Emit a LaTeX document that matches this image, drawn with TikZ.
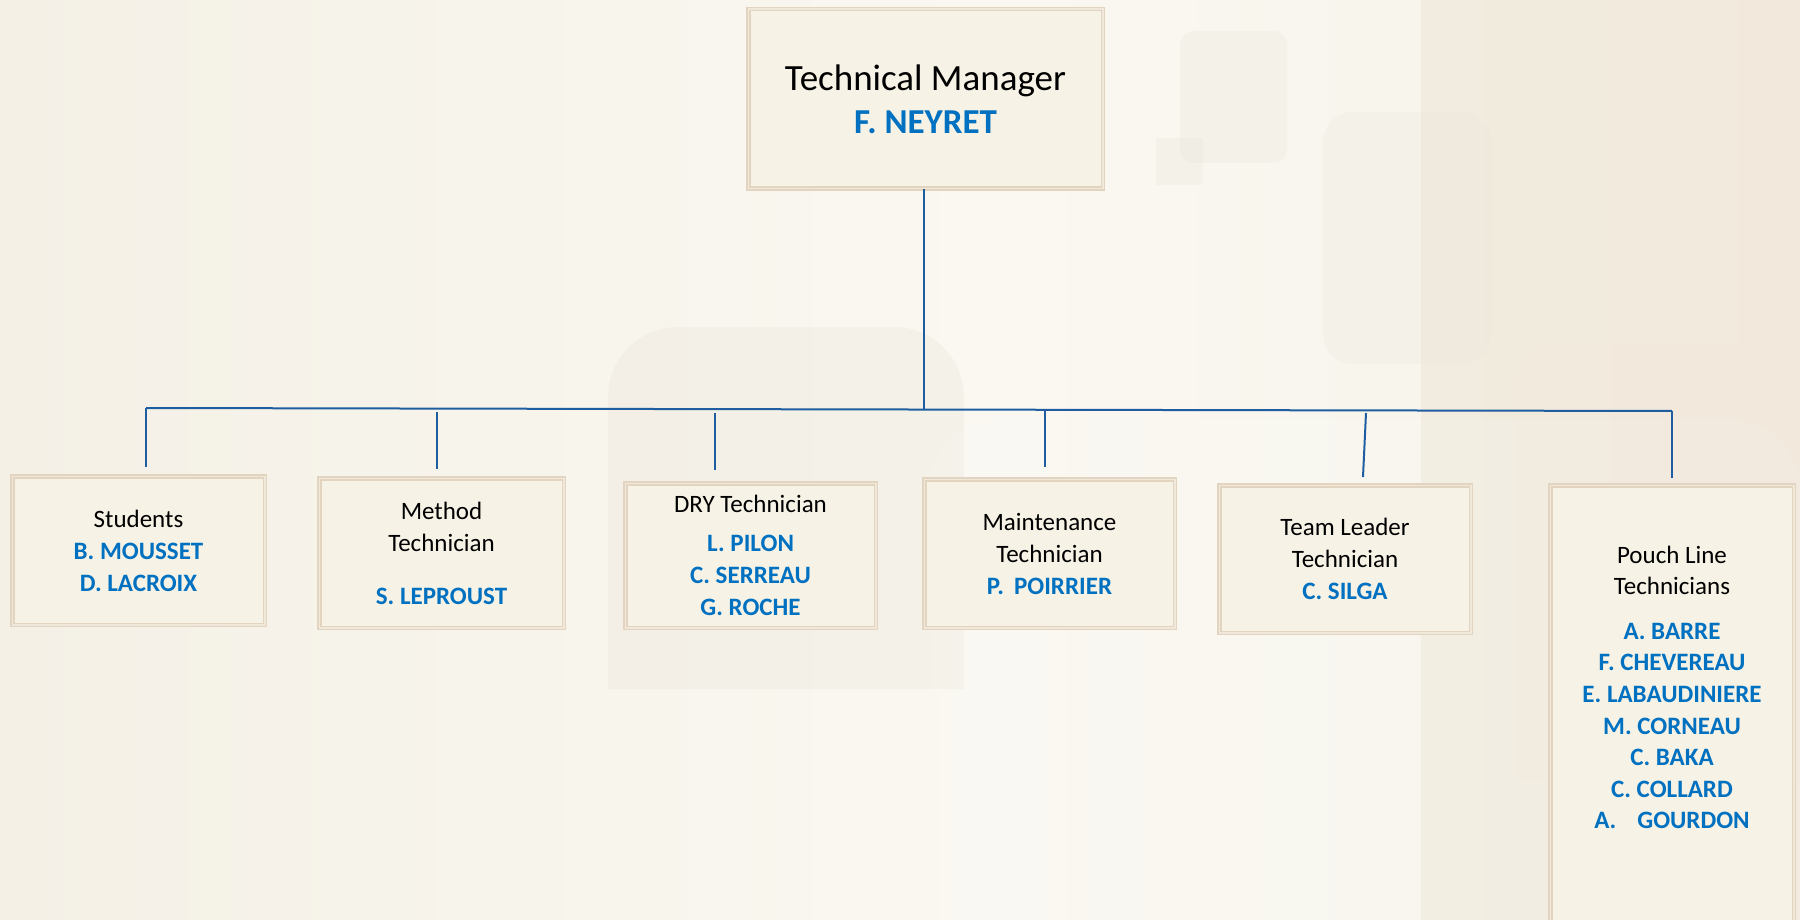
\documentclass[tikz,border=0pt]{standalone}
\usepackage{fontspec}
\setmainfont{Carlito}
\definecolor{bluetxt}{RGB}{0,112,192}
\definecolor{linec}{RGB}{30,94,160}
\definecolor{boxfill}{RGB}{246,242,229}
\definecolor{boxedge}{RGB}{226,212,190}
\definecolor{boxlight}{RGB}{240,233,219}
\definecolor{bgA}{RGB}{244,240,230}
\definecolor{bgB}{RGB}{250,248,241}
\definecolor{bgC}{RGB}{241,236,223}
\definecolor{bgD}{RGB}{242,233,220}
\definecolor{ghost}{RGB}{234,230,219}
\tikzset{
  obox/.style={draw=boxedge, line width=1.5pt, double=boxlight, double distance=1.5pt,
    fill=boxfill, inner sep=0pt, align=center, font=\fontsize{25}{32}\selectfont},
  conn/.style={draw=linec, line width=2pt},
}
\newcommand{\who}[1]{{\bfseries\color{bluetxt}#1}}
\begin{document}
\begin{tikzpicture}[x=1pt,y=-1pt]
\useasboundingbox (0,0) rectangle (1800,920);
% background
\shade[left color=bgA, right color=bgB] (0,0) rectangle (1000,920);
\shade[left color=bgB, right color=bgB!60!bgA] (1000,0) rectangle (1421,920);
\shade[left color=bgC, right color=bgD] (1421,0) rectangle (1800,920);
\fill[ghost, opacity=0.35, rounded corners=70pt] (608,689) -- (608,327) -- (964,327) [sharp corners] -- (964,689) -- cycle;
\fill[white, opacity=0.12, rounded corners=70pt] (930,920) -- (930,419) -- (1800,419) [sharp corners] -- (1800,920) -- cycle;
\fill[ghost, opacity=0.3, rounded corners=14pt] (1180,163) -- (1180,31) -- (1287,31) -- (1287,163) -- cycle;
\fill[ghost, opacity=0.3] (1156,138) rectangle (1203,185);
\fill[ghost, opacity=0.25, rounded corners=30pt] (1323,112) rectangle (1491,364);
\fill[bgD, opacity=0.35, rounded corners=40pt] (1515,780) -- (1515,344) -- (1800,344) [sharp corners] -- (1800,780) -- cycle;

% boxes
\node[obox, minimum width=354.5pt, minimum height=179.5pt, font=\fontsize{37}{43}\selectfont] (top) at (925.5,99)
  {Technical Manager\\{\fontsize{35}{43}\selectfont\who{F. NEYRET}}};
\node[obox, minimum width=252.5pt, minimum height=148.5pt] (stud) at (138.5,550.5)
  {Students\\\who{B. MOUSSET}\\\who{D. LACROIX}};
\node[obox, minimum width=244.5pt, minimum height=149.5pt] (meth) at (441.5,553)
  {Method\\Technician\\[21pt]\who{S. LEPROUST}};
\node[obox, minimum width=250.5pt, minimum height=144.5pt] (dry) at (750.5,555.5)
  {DRY Technician\\[7pt]\who{L. PILON}\\\who{C. SERREAU}\\\who{G. ROCHE}};
\node[obox, minimum width=250.5pt, minimum height=148.5pt] (maint) at (1049.5,553.5)
  {Maintenance\\Technician\\\who{P.\hspace{10pt}POIRRIER}};
\node[obox, minimum width=251.5pt, minimum height=147.5pt] (team) at (1345,559)
  {Team Leader\\Technician\\\who{C. SILGA}};
\node[obox, minimum width=243.5pt, minimum height=452.5pt] (pouch) at (1672,711.5) {};
\node[inner sep=0pt, align=center, anchor=north, font=\fontsize{25}{31.6}\selectfont] (pouchtxt) at (1672,545.5)
  {Pouch Line\\Technicians\\[13pt]\who{A. BARRE}\\\who{F. CHEVEREAU}\\\who{E. LABAUDINIERE}\\\who{M. CORNEAU}\\\who{C. BAKA}\\\who{C. COLLARD}\\\who{A.\hspace{21pt}GOURDON}};

% connectors
\coordinate (bL) at (146,408);
\coordinate (bR) at (1672,411);
\coordinate (bT) at (924,408.5);
\coordinate (dM) at (437,412);
\coordinate (dD) at (715,413);
\coordinate (dN) at (1045,409.5);
\coordinate (dT) at (1366,413);
\coordinate (eT) at (1363,477);
\draw[conn] (top.south -| bT) -- (bT);
\draw[conn] (bL) -- (bR);
\draw[conn, shorten >=9pt] (bL) -- (bL |- stud.north);
\draw[conn, shorten >=9pt] (dM) -- (dM |- meth.north);
\draw[conn, shorten >=13pt] (dD) -- (dD |- dry.north);
\draw[conn, shorten >=12pt] (dN) -- (dN |- maint.north);
\draw[conn] (dT) -- (eT);
\draw[conn, shorten >=7pt] (bR) -- (bR |- pouch.north);
\end{tikzpicture}
\end{document}
